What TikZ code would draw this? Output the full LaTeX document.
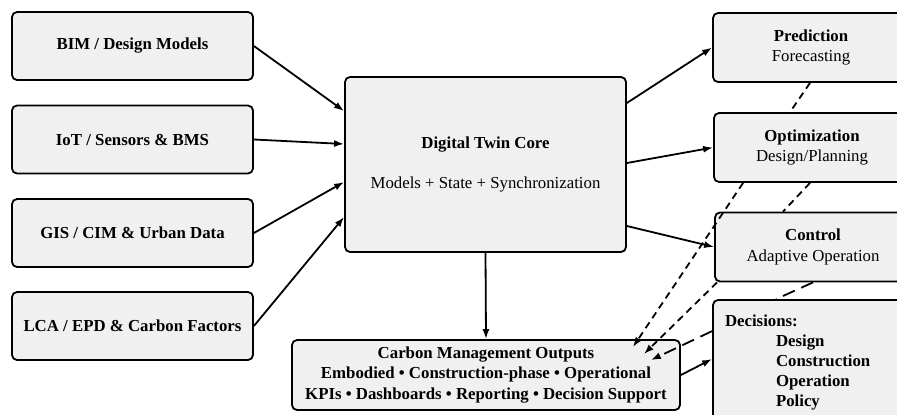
\documentclass[tikz,border=0pt]{standalone}
\usepackage{fontspec}
\setmainfont{Liberation Serif}
\usetikzlibrary{arrows.meta,positioning,calc}
\definecolor{boxgray}{RGB}{240,240,240}
\tikzset{
    block/.style={draw=black, fill=boxgray, rounded corners=5pt, line width=1.8pt,
        font=\fontsize{16.8}{20.5}\selectfont, align=center, inner sep=4pt},
    inbox/.style={block, font=\fontsize{16.8}{20.5}\selectfont\bfseries,
        minimum width=241pt, minimum height=68pt},
    outbox/.style={block, minimum width=196pt, minimum height=69pt},
    flow/.style={draw=black, line width=1.8pt, -{Latex[length=10pt,width=7pt]}},
    feedback/.style={draw=black, line width=1.8pt, dash pattern=on 7pt off 5pt,
        -{Latex[length=10pt,width=7pt]}},
    link/.style={draw=black, line width=1.8pt, dash pattern=on 7pt off 5pt},
    longlink/.style={draw=black, line width=1.8pt, dash pattern=on 13pt off 7pt},
    longfeedback/.style={longlink, -{Latex[length=10pt,width=7pt]}},
}

\begin{document}
\begin{tikzpicture}[x=1pt, y=-1pt]
    \useasboundingbox (0,0) rectangle (897,415);
    \clip (0,0) rectangle (897,415);
	% data sources
	\node[inbox] (bim) at (132.5,46) {BIM / Design Models};
	\node[inbox] (iot) at (132.5,139.5) {IoT / Sensors \& BMS};
	\node[inbox] (gis) at (132.5,233) {GIS / CIM \& Urban Data};
	\node[inbox] (lca) at (132.5,326) {LCA / EPD \& Carbon Factors};
	% core
	\node[block, minimum width=281pt, minimum height=175pt] (core) at (485.5,164.5)
	    {\textbf{Digital Twin Core}\\[19pt]Models + State + Synchronization};
	\node[block, font=\fontsize{16.8}{20.5}\selectfont\bfseries,
	    minimum width=388pt, minimum height=70pt] (out) at (486,375)
	    {Carbon Management Outputs\\
	     Embodied • Construction-phase • Operational\\
	     KPIs • Dashboards • Reporting • Decision Support};
	% services
	\node[outbox] (pred) at (811,47.5) {\textbf{Prediction}\\Forecasting};
	\node[outbox] (opt) at (812,147.5) {\textbf{Optimization}\\Design/Planning};
	\node[outbox] (ctrl) at (813,247) {\textbf{Control}\\Adaptive Operation};
	\node[block, font=\fontsize{16.8}{20}\selectfont\bfseries, align=left,
	    minimum width=196pt, minimum height=124pt, text width=172pt,
	    inner xsep=12pt] (dec) at (811,362)
	    {Decisions:\\
	     \hspace*{51pt}Design\\
	     \hspace*{51pt}Construction\\
	     \hspace*{51pt}Operation\\
	     \hspace*{51pt}Policy};

	\draw[flow] (bim.east) -- ([yshift=53.5pt]core.west);
	\draw[flow] (iot.east) -- ([yshift=20.5pt]core.west);
	\draw[flow] (gis.east) -- ([yshift=-17.5pt]core.west);
	\draw[flow] (lca.east) -- ([yshift=-52.5pt]core.west);
	\draw[flow] ([yshift=61.5pt]core.east) -- (pred.west);
	\draw[flow] ([yshift=1.5pt]core.east) -- (opt.west);
	\draw[flow] ([yshift=-61.5pt]core.east) -- (ctrl.west);
	\draw[flow] (core.south) -- (out.north);
	\draw[flow] (out.east) -- ([yshift=3pt]dec.west);

	% couplings and feedback
	\draw[link] ([xshift=-1pt]pred.south) -- ([xshift=-22pt]opt.north);
	\draw[link] ([xshift=-2pt]opt.south) -- ([xshift=-30pt]ctrl.north);
	\draw[longlink] (ctrl.south) -- ([xshift=64pt]dec.north west);
	\draw[feedback] ([xshift=30pt]opt.south west) -- ([xshift=-48pt,yshift=-8pt]out.north east);
	\draw[feedback] ([xshift=3pt]ctrl.south west) -- ([xshift=-37pt,yshift=-15pt]out.north east);
	\draw[longfeedback] ([yshift=-32pt]dec.north west) -- ([xshift=-30pt,yshift=-21pt]out.north east);
 \end{tikzpicture}
\end{document}
